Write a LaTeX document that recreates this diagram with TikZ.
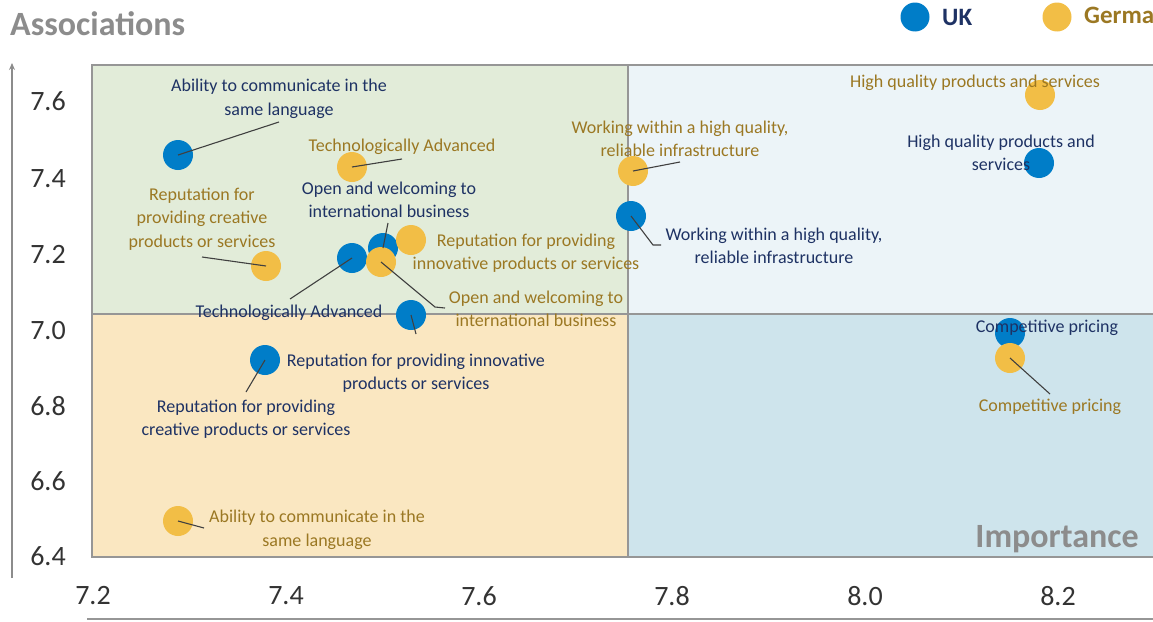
\documentclass[tikz,border=0pt]{standalone}
\usepackage{fontspec}
\setmainfont{Carlito}
\usetikzlibrary{arrows.meta}
\definecolor{ukblue}{RGB}{0,125,200}
\definecolor{deorange}{RGB}{242,190,70}
\definecolor{uktext}{RGB}{30,50,100}
\definecolor{detext}{RGB}{155,120,35}
\definecolor{qgreen}{RGB}{226,236,217}
\definecolor{qpale}{RGB}{236,244,248}
\definecolor{qorange}{RGB}{250,231,193}
\definecolor{qblue}{RGB}{206,228,236}
\definecolor{framegray}{RGB}{150,150,150}
\definecolor{titlegray}{RGB}{140,140,140}
\begin{document}
\begin{tikzpicture}[x=1pt,y=-1pt,
  ukdot/.style={circle,fill=ukblue,minimum size=30pt,inner sep=0pt},
  dedot/.style={circle,fill=deorange,minimum size=30pt,inner sep=0pt},
  lab/.style={inner sep=0pt,align=center,font=\fontsize{18}{23.5}\selectfont},
  uklab/.style={lab,text=uktext},
  delab/.style={lab,text=detext},
  leader/.style={draw=black!75,line width=1.1pt},
  tick/.style={inner sep=0pt,text=black!80,font=\fontsize{28}{30}\selectfont},
  axtitle/.style={inner sep=0pt,text=titlegray,font=\fontsize{34}{36}\selectfont\bfseries},
  legtext/.style={inner sep=0pt,font=\fontsize{25}{27}\selectfont\bfseries}]
\clip (0,0) rectangle (1153,621);
% quadrants
\fill[qgreen] (92,65) rectangle (628,314);
\fill[qpale] (628,65) rectangle (1160,314);
\fill[qorange] (92,314) rectangle (628,557);
\fill[qblue] (628,314) rectangle (1160,557);
\draw[framegray,line width=2pt] (92,65) rectangle (1165,557);
\draw[framegray,line width=1.3pt] (628,65) -- (628,557);
\draw[framegray,line width=1.3pt] (92,314) -- (1160,314);
% axes
\draw[titlegray,line width=1.2pt,-{Stealth[length=7pt,width=6pt]}] (12,578) -- (12,63);
\draw[framegray,line width=1.5pt] (87,619) -- (1160,619);
% titles
\node[axtitle,anchor=base west] (atitle) at (10,35) {Associations};
\node[axtitle,anchor=base] (itit) at (1057,547) {Importance};
% ticks
\foreach \v/\yy in {7.6/101,7.4/179,7.2/255,7.0/331,6.8/406,6.6/481,6.4/556}
  \node[tick] (yt\yy) at (48,\yy) {\v};
\foreach \v/\xx in {7.2/93,7.4/286,7.6/479,7.8/672,8.0/865,8.2/1058}
  \node[tick] (xt\xx) at (\xx,596) {\v};
% legend
\node[ukdot,minimum size=29pt] (lgu) at (915,17) {};
\node[legtext,text=uktext,anchor=west] (lgut) at (942,17) {UK};
\node[dedot,minimum size=29pt] (lgd) at (1057,17) {};
\node[legtext,text=detext,anchor=west] (lgdt) at (1084,17) {Germany};
% UK dots
\node[ukdot] (u1) at (178,155) {};
\node[ukdot] (u2) at (383,248) {};
\node[ukdot] (u3) at (352,258) {};
\node[ukdot] (u4) at (411,315) {};
\node[ukdot] (u5) at (265,360) {};
\node[ukdot] (u6) at (631,216) {};
\node[ukdot] (u7) at (1039,163) {};
\node[ukdot] (u8) at (1010,333) {};
% Germany dots
\node[dedot] (d1) at (1040,95) {};
\node[dedot] (d2) at (633,171) {};
\node[dedot] (d3) at (352,167) {};
\node[dedot] (d4) at (266,266) {};
\node[dedot] (d5) at (411,240) {};
\node[dedot] (d6) at (381,262) {};
\node[dedot] (d7) at (1010,358) {};
\node[dedot] (d8) at (178,521) {};
% leader ends
\coordinate (e1) at (279,122);
\coordinate (e2) at (388,223);
\coordinate (e3) at (290,299);
\coordinate (e4) at (416,334);
\coordinate (e5) at (246,392);
\coordinate (e6a) at (653,245);
\coordinate (e6) at (661,245);
\coordinate (f2) at (680,162);
\coordinate (f3) at (402,159);
\coordinate (f4) at (202,257);
\coordinate (f6a) at (435,307);
\coordinate (f6) at (445,308);
\coordinate (f7) at (1050,394);
\coordinate (f8) at (204,528);
% leaders
\draw[leader] (u1.center) -- (e1);
\draw[leader] (u2.center) -- (e2);
\draw[leader] (u3.center) -- (e3);
\draw[leader] (u4.center) -- (e4);
\draw[leader] (u5.center) -- (e5);
\draw[leader] (u6.center) -- (e6a) -- (e6);
\draw[leader] (d2.center) -- (f2);
\draw[leader] (d3.center) -- (f3);
\draw[leader] (d4.center) -- (f4);
\draw[leader] (d6.center) -- (f6a) -- (f6);
\draw[leader] (d7.center) -- (f7);
\draw[leader] (d8.center) -- (f8);
% UK labels
\node[uklab] (ul1) at (279,99) {Ability to communicate in the\\same language};
\node[uklab] (ul2) at (389,200) {Open and welcoming to\\international business};
\node[uklab] (ul3) at (289,313) {Technologically Advanced};
\node[uklab] (ul4) at (416,373) {Reputation for providing innovative\\products or services};
\node[uklab] (ul5) at (246,419) {Reputation for providing\\creative products or services};
\node[uklab] (ul6) at (774,246) {Working within a high quality,\\reliable infrastructure};
\node[uklab] (ul7) at (1001,153) {High quality products and\\services};
\node[uklab] (ul8) at (1047,328) {Competitive pricing};
% Germany labels
\node[delab] (dl1) at (975,83) {High quality products and services};
\node[delab] (dl2) at (680,139) {Working within a high quality,\\reliable infrastructure};
\node[delab] (dl3) at (402,147) {Technologically Advanced};
\node[delab] (dl4) at (202,219) {Reputation for\\providing creative\\products or services};
\node[delab] (dl5) at (526,253) {Reputation for providing\\innovative products or services};
\node[delab] (dl6) at (536,309) {Open and welcoming to\\international business};
\node[delab] (dl7) at (1050,407) {Competitive pricing};
\node[delab] (dl8) at (317,530) {Ability to communicate in the\\same language};
\end{tikzpicture}
\end{document}
